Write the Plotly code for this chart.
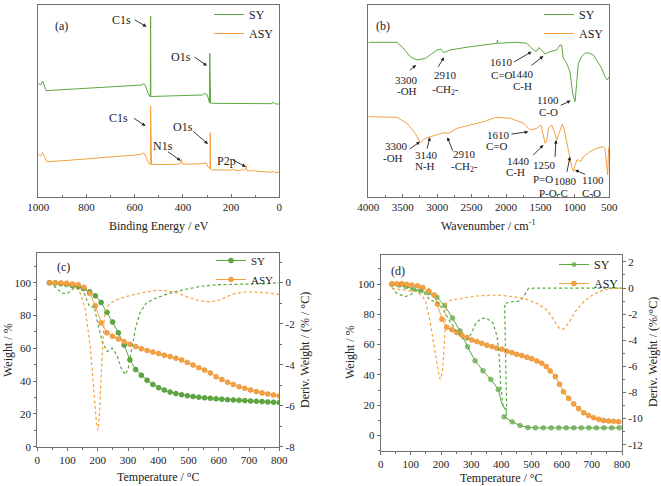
import plotly.graph_objects as go

W, H = 661, 486
GREEN = '#5CA83F'
ORANGE = '#F4A142'
AXIS = '#707070'
TEXT = '#222222'
FONT = 'Liberation Serif, Times New Roman, serif'

# ---------------- (a) XPS survey ----------------
xps_E_sy = [1000, 990, 982, 975, 968, 950, 900, 800, 700, 600, 570, 562, 555, 545, 538, 535, 534, 533, 530, 520,
            480, 400, 350, 320, 310, 302, 296, 292, 289.5, 288.5, 287.5, 285, 270, 200, 150, 100, 50, 30, 25, 20, 10, 0]
xps_I_sy = [113.5, 112, 116, 110, 106.3, 106.6, 107.3, 108.7, 110.1, 111.5, 112, 113.5, 111, 104, 100, 100, 181, 100, 100.5, 100.6,
            100.8, 101.2, 101.5, 102, 103.5, 103, 100, 95, 94, 143.7, 94, 93.8, 93.7, 93.6, 93.5, 93.4, 93.2, 93.3, 95, 93.3, 93, 93]
xps_E_asy = [1000, 990, 982, 975, 965, 900, 800, 700, 600, 570, 562, 555, 545, 538, 535, 534, 533, 530, 500, 450,
             420, 410, 406, 402, 380, 330, 310, 303, 296, 290, 287.5, 286.5, 285.5, 282, 250, 200, 192, 188, 160, 152,
             148, 140, 137, 134, 110, 103, 98, 50, 30, 25, 20, 0]
xps_I_asy = [42.7, 41, 44.5, 40, 35.3, 36.2, 38, 39.8, 42, 43, 44.3, 41, 35, 33, 32.5, 91, 32.5, 32.5, 32.5, 32.6,
             32.8, 34, 37.7, 33, 32.8, 33.2, 34.3, 34, 30, 28.7, 28.3, 64.3, 28, 27.2, 27, 26.8, 28, 26.8, 26.5, 28,
             26.5, 28, 31.3, 26.3, 26, 27, 25.8, 25, 24.8, 26, 24.6, 24.3]
xps_ticks = [1000, 800, 600, 400, 200, 0]
# label, text position, arrow tail, arrow head
xps_labels = [
    ('C1s', (654, 177), (606, 178), (551, 170.3)),
    ('O1s', (406, 139.7), (358, 141), (300, 131.3)),
    ('C1s', (668, 78.7), (609, 79.7), (555, 71)),
    ('O1s', (399, 69.7), (364, 67), (296, 53)),
    ('N1s', (482, 51.3), (468, 46.3), (409, 36.3)),
    ('P2p', (219, 35.7), (198, 37.7), (139, 30.3)),
]

# ---------------- (b) FTIR ----------------
ftir_wn_sy = [4000, 3584, 3511, 3390, 3293, 3170, 3003, 2945, 2906, 2810, 2519, 2132, 2125, 2118, 1842, 1697, 1600, 1561,
              1527, 1482, 1433, 1361, 1264, 1216, 1192, 1168, 1119, 1071, 1032, 998, 974, 950, 902, 853, 805, 732, 684,
              611, 563, 529, 500]
ftir_T_sy = [154.7, 154.7, 150.3, 140.3, 137, 138.7, 147, 148, 144.3, 147, 150.3, 153.7, 157, 153.7, 154.7, 153.7, 147,
             145.3, 149.3, 147, 143, 145.3, 147, 152, 152, 138.7, 133.7, 125.3, 103.7, 95.3, 113.7, 133.7, 140.3, 143.7,
             144.3, 142, 137, 128.7, 120.3, 117, 120.3]
ftir_wn_asy = [4000, 3584, 3439, 3318, 3245, 3172, 3099, 3003, 2906, 2833, 2712, 2519, 2325, 2146, 1938, 1745, 1648, 1551,
               1493, 1464, 1433, 1410, 1385, 1337, 1298, 1264, 1226, 1182, 1153, 1109, 1071, 1046, 1022, 998, 974, 950,
               916, 877, 780, 684, 587, 563, 539, 524, 510, 500]
ftir_T_asy = [80.3, 79.7, 73.7, 63.7, 54.3, 58.7, 60.3, 62, 64.3, 63.7, 68.7, 72, 75.3, 79.7, 78.7, 73.7, 67, 68.7, 72,
              63.7, 53.7, 55.3, 68.7, 72, 65.3, 57, 65.3, 73, 67, 50.3, 38.7, 30.3, 25.3, 30.3, 37, 37, 35.3, 40.3, 45.3,
              48.7, 50.3, 48.7, 30.3, 22, 48.7, 50.3]
ftir_ticks = [4000, 3500, 3000, 2500, 2000, 1500, 1000, 500]
# text lines (text, x, y)
ftir_texts = [
    ('3300', 3443, 117.5), ('-OH', 3443, 105.8),
    ('2910', 2886, 122), ('-CH<sub>2</sub>-', 2886, 107.5),
    ('1610', 2060, 134.8), ('C=O', 2060, 122.5),
    ('1440', 1760, 123.5), ('C-H', 1760, 111.5),
    ('1100', 1385, 97.5), ('C-O', 1385, 84.8),
    ('3300', 3588, 50.8), ('-OH', 3636, 39.2),
    ('3140', 3152, 42.5), ('N-H', 3177, 30.8),
    ('2910', 2596, 43), ('-CH<sub>2</sub>-', 2596, 29.8),
    ('1610', 2112, 62.5), ('C=O', 2136, 50.8),
    ('1440', 1821, 36.5), ('C-H', 1869, 24.8),
    ('1250', 1434, 31.8), ('P=O', 1458, 18.2),
    ('1080', 1143, 15.8), ('P-O-C', 1313, 4.3),
    ('1100', 732, 17.5), ('C-O', 756, 4.3),
]
# arrow tail, arrow head
ftir_arrows = [
    ((3419, 125.3), (3307, 132)), ((2997, 128.7), (2901, 139.7)), ((1903, 134.3), (1627, 145.3)),
    ((1652, 130.3), (1458, 141)), ((1226, 91), (1061, 96.3)),
    ((3419, 47), (3249, 55.3)), ((3152, 47), (3104, 59.7)), ((2765, 44.7), (2852, 59.7)),
    ((1942, 62.7), (1676, 65.3)), ((1627, 40.3), (1458, 52)), ((1289, 38.7), (1274, 57)),
    ((1119, 23.7), (1071, 40.3)), ((829, 22), (998, 27)),
]

# ---------------- (c) TGA / DTG ----------------
tgc_T = [40, 59, 78, 97, 116, 135, 154, 173, 192, 211, 230, 249, 268, 287, 306, 325, 344, 363, 382, 401, 420,
         439, 458, 477, 496, 515, 534, 553, 572, 591, 610, 629, 648, 667, 686, 705, 724, 743, 762, 781, 800]
tgc_W_sy = [100, 99.8, 99.4, 99.0, 98.3, 97.5, 96.5, 94.5, 92.0, 88.0, 82.0, 76.0, 69.5, 62.0, 53.0, 47.0, 43.5, 40.5,
            38.0, 36.0, 34.5, 33.3, 32.4, 31.7, 31.1, 30.6, 30.2, 29.8, 29.5, 29.2, 29.0, 28.7, 28.5, 28.3, 28.1, 27.9,
            27.7, 27.5, 27.3, 27.1, 26.9]
tgc_W_asy = [100, 99.9, 99.8, 99.6, 99.2, 98.8, 97.2, 93.5, 86.0, 75.5, 69.5, 67.3, 65.7, 64.0, 62.5, 61.1, 59.8, 58.7,
             57.7, 56.8, 55.8, 55.0, 54.0, 52.9, 51.4, 49.8, 48.2, 46.7, 44.9, 42.7, 41.0, 39.3, 37.9, 36.6, 35.6, 34.6,
             33.6, 32.8, 32.1, 31.5, 30.9]
dtgc_T_sy = [40, 65, 80, 95, 108, 125, 142, 155, 165, 172, 180, 188, 197, 214, 230, 240, 247, 262, 278, 291, 300, 312,
             325, 340, 360, 385, 407, 430, 462, 500, 540, 595, 650, 705, 760, 800]
dtgc_D_sy = [0, -0.28, -0.5, -0.55, -0.45, -0.2, -0.25, -0.5, -0.9, -1.15, -1.2, -1.15, -1.8, -2.86, -3.35, -3.3, -3.19,
             -3.5, -4.2, -4.49, -4.2, -3.2, -2.2, -1.45, -1.0, -0.8, -0.67, -0.55, -0.42, -0.3, -0.18, -0.1, -0.07,
             -0.07, -0.05, 0]
dtgc_T_asy = [40, 98, 126, 142, 159, 175, 189, 196, 201, 205, 209, 214, 220, 225, 233, 241, 260, 296, 350, 396, 430,
              462, 506, 539, 566, 594, 649, 693, 737, 800]
dtgc_D_asy = [0, -0.11, -0.2, -0.52, -1.33, -3.12, -5.72, -6.9, -7.19, -6.5, -5.2, -3.4, -2.0, -1.4, -1.15, -1.0,
              -0.85, -0.67, -0.48, -0.37, -0.4, -0.5, -0.76, -0.89, -0.94, -0.89, -0.55, -0.44, -0.47, -0.57]

# ---------------- (d) TGA / DTG ----------------
tgd_T_sy = [37, 61, 84, 108, 132, 158, 186, 212, 238, 263, 288, 313, 339, 365, 390, 401, 415, 418, 409, 436, 462, 488,
            513, 539, 565, 590, 615, 640, 665, 690, 715, 740, 766, 791]
tgd_W_sy = [100, 99.3, 98.3, 96.7, 95.6, 94.3, 91.3, 85.9, 77.5, 69.0, 58.6, 49.3, 42.7, 37.0, 30.4, 21.2, 16.5, 14.0,
            12.3, 9.0, 6.6, 5.2, 5.0, 5.0, 5.0, 5.0, 5.0, 5.0, 5.0, 5.0, 5.0, 5.0, 5.0, 5.0]
tgd_unmarked = [401, 415, 418]
tgd_T_asy = [37, 53, 70, 86, 103, 122, 139, 160, 177, 188, 203, 219, 236, 252, 269, 286, 302, 319, 335, 352, 369, 385,
             402, 418, 435, 451, 468, 485, 501, 518, 534, 549, 562, 579, 593, 606, 623, 640, 656, 673, 689, 706, 723,
             739, 756, 772, 789]
tgd_W_asy = [100, 100.2, 100.2, 99.8, 99.3, 98.9, 97.8, 95.4, 92.7, 86.8, 76.8, 71.5, 69.8, 68.0, 66.4, 64.7, 63.1, 62.0,
             60.9, 59.6, 58.7, 57.6, 57.0, 55.6, 54.7, 53.6, 52.8, 51.7, 50.6, 49.2, 47.7, 45.5, 42.6, 38.9, 33.8, 28.9,
             24.5, 20.8, 17.7, 15.0, 13.2, 11.7, 10.6, 9.9, 9.5, 9.3, 9.1]
dtgd_T_sy = [37, 53, 81, 97, 117, 136, 153, 165, 186, 208, 230, 252, 270, 285, 300, 315, 334, 351, 373, 386, 393, 398,
             406, 418, 414, 411, 435, 462, 474, 490, 518, 800]
dtgd_D_sy = [0.05, -0.41, -0.66, -0.54, -0.2, -0.15, -0.66, -0.95, -1.05, -1.68, -2.58, -3.35, -3.85, -4.0, -3.5, -2.7,
             -2.32, -2.32, -2.7, -3.73, -5.26, -7.5, -9.1, -9.3, -5.3, -1.17, -1.05, -1.0, -0.66, -0.03, 0, 0]
dtgd_T_asy = [37, 86, 120, 140, 150, 163, 179, 188, 194, 198, 204, 210, 214, 218, 230, 251, 318, 385, 440, 485, 518,
              551, 575, 593, 606, 623, 645, 673, 706, 739, 772, 800]
dtgd_D_asy = [-0.03, -0.2, -0.28, -0.66, -1.1, -2.45, -4.6, -6.0, -6.8, -7.0, -6.5, -4.7, -3.0, -1.17, -0.95, -0.87,
              -0.61, -0.54, -0.66, -0.87, -1.17, -1.68, -2.45, -3.09, -3.15, -2.66, -1.81, -1.05, -0.46, -0.15, -0.03, 0]

temp_ticks = [0, 100, 200, 300, 400, 500, 600, 700, 800]
weight_ticks = [0, 20, 40, 60, 80, 100]
deriv_ticks_c = [-8, -6, -4, -2, 0]
deriv_ticks_d = [-12, -10, -8, -6, -4, -2, 0, 2]


def fx(p):
    return p / W


def fy(p):
    return 1 - p / H


fig = go.Figure()
DASH = '3px,2.5px'

# (a)
fig.add_trace(go.Scatter(x=xps_E_sy, y=xps_I_sy, mode='lines', name='SY', line=dict(color=GREEN, width=1),
                         xaxis='x', yaxis='y', legend='legend'))
fig.add_trace(go.Scatter(x=xps_E_asy, y=xps_I_asy, mode='lines', name='ASY', line=dict(color=ORANGE, width=1),
                         xaxis='x', yaxis='y', legend='legend'))
# (b)
fig.add_trace(go.Scatter(x=ftir_wn_sy, y=ftir_T_sy, mode='lines', name='SY', line=dict(color=GREEN, width=1),
                         xaxis='x2', yaxis='y2', legend='legend2'))
fig.add_trace(go.Scatter(x=ftir_wn_asy, y=ftir_T_asy, mode='lines', name='ASY', line=dict(color=ORANGE, width=1),
                         xaxis='x2', yaxis='y2', legend='legend2'))
# (c)
fig.add_trace(go.Scatter(x=dtgc_T_sy, y=dtgc_D_sy, mode='lines', showlegend=False,
                         line=dict(color=GREEN, width=1.2, dash=DASH), xaxis='x3', yaxis='y4'))
fig.add_trace(go.Scatter(x=dtgc_T_asy, y=dtgc_D_asy, mode='lines', showlegend=False,
                         line=dict(color=ORANGE, width=1.2, dash=DASH), xaxis='x3', yaxis='y4'))
fig.add_trace(go.Scatter(x=tgc_T, y=tgc_W_sy, mode='lines+markers', name='SY', line=dict(color=GREEN, width=1),
                         marker=dict(size=5, color=GREEN, line=dict(color='#4A8F33', width=0.5)),
                         xaxis='x3', yaxis='y3', legend='legend3'))
fig.add_trace(go.Scatter(x=tgc_T, y=tgc_W_asy, mode='lines+markers', name='ASY', line=dict(color=ORANGE, width=1),
                         marker=dict(size=5, color=ORANGE, line=dict(color='#E08A2A', width=0.5)),
                         xaxis='x3', yaxis='y3', legend='legend3'))
# (d)
fig.add_trace(go.Scatter(x=dtgd_T_sy, y=dtgd_D_sy, mode='lines', showlegend=False,
                         line=dict(color=GREEN, width=1.2, dash=DASH), xaxis='x4', yaxis='y6'))
fig.add_trace(go.Scatter(x=dtgd_T_asy, y=dtgd_D_asy, mode='lines', showlegend=False,
                         line=dict(color=ORANGE, width=1.2, dash=DASH), xaxis='x4', yaxis='y6'))
sy_sizes = [0 if t in tgd_unmarked else 5 for t in tgd_T_sy]
fig.add_trace(go.Scatter(x=tgd_T_sy, y=tgd_W_sy, mode='lines+markers', name='SY', line=dict(color=GREEN, width=1),
                         marker=dict(size=sy_sizes, color=GREEN, line=dict(color='#4A8F33', width=0.5)),
                         xaxis='x4', yaxis='y5', legend='legend4'))
fig.add_trace(go.Scatter(x=tgd_T_asy, y=tgd_W_asy, mode='lines+markers', name='ASY', line=dict(color=ORANGE, width=1),
                         marker=dict(size=5, color=ORANGE, line=dict(color='#E08A2A', width=0.5)),
                         xaxis='x4', yaxis='y5', legend='legend4'))

tick_font = dict(family=FONT, size=11, color=TEXT)
common = dict(showline=True, linecolor=AXIS, linewidth=1, showgrid=False, zeroline=False, tickfont=tick_font,
              tickcolor=AXIS, automargin=False)

dom_a_x = [fx(38.3), fx(279.3)]
dom_b_x = [fx(368.3), fx(609.3)]
dom_ab_y = [fy(197), fy(4.5)]
dom_c_x = [fx(37.3), fx(279.3)]
dom_c_y = [fy(446.7), fy(252.7)]
dom_d_x = [fx(380.7), fx(622)]
dom_d_y = [fy(450.7), fy(255)]

layout = dict(
    width=W, height=H, margin=dict(l=0, r=0, t=0, b=0),
    paper_bgcolor='white', plot_bgcolor='white',
    font=dict(family=FONT, size=11, color=TEXT),
    xaxis=dict(domain=dom_a_x, range=[1000, 0], anchor='y', mirror=True, tickvals=xps_ticks,
               ticks='inside', ticklen=3, minor=dict(ticks='inside', ticklen=2, dtick=100, tickcolor=AXIS), **common),
    yaxis=dict(domain=dom_ab_y, range=[0, 192.5], anchor='x', mirror=True, showticklabels=False, ticks='', **common),
    xaxis2=dict(domain=dom_b_x, range=[4000, 500], anchor='y2', mirror=True, tickvals=ftir_ticks,
                ticks='inside', ticklen=3, minor=dict(ticks='inside', ticklen=2, dtick=250, tickcolor=AXIS), **common),
    yaxis2=dict(domain=dom_ab_y, range=[0, 192.5], anchor='x2', mirror=True, showticklabels=False, ticks='', **common),
    xaxis3=dict(domain=dom_c_x, range=[0, 800], anchor='y3', mirror=True, tickvals=temp_ticks,
                ticks='outside', ticklen=3, minor=dict(ticks='outside', ticklen=2, dtick=50, tickcolor=AXIS), **common),
    yaxis3=dict(domain=dom_c_y, range=[0, 118.3], anchor='x3', tickvals=weight_ticks,
                ticks='outside', ticklen=3, minor=dict(ticks='outside', ticklen=2, dtick=10, tickcolor=AXIS), **common),
    yaxis4=dict(range=[-8, 1.46], anchor='x3', overlaying='y3', side='right', tickvals=deriv_ticks_c,
                ticktext=[str(v) for v in deriv_ticks_c],
                ticks='outside', ticklen=3, minor=dict(ticks='outside', ticklen=2, dtick=1, tickcolor=AXIS), **common),
    xaxis4=dict(domain=dom_d_x, range=[0, 800], anchor='y5', mirror=True, tickvals=temp_ticks,
                ticks='outside', ticklen=3, minor=dict(ticks='outside', ticklen=2, dtick=50, tickcolor=AXIS), **common),
    yaxis5=dict(domain=dom_d_y, range=[-10.1, 119.2], anchor='x4', tickvals=weight_ticks,
                ticks='outside', ticklen=3, minor=dict(ticks='outside', ticklen=2, dtick=10, tickcolor=AXIS), **common),
    yaxis6=dict(range=[-12.46, 2.53], anchor='x4', overlaying='y5', side='right', tickvals=deriv_ticks_d,
                ticktext=[str(v) for v in deriv_ticks_d],
                ticks='outside', ticklen=3, minor=dict(ticks='outside', ticklen=2, dtick=1, tickcolor=AXIS), **common),
)

leg_common = dict(xanchor='left', yanchor='top', bgcolor='rgba(0,0,0,0)', itemwidth=30, tracegroupgap=0,
                  font=dict(family=FONT, size=12, color=TEXT))
layout['legend'] = dict(x=fx(209), y=fy(0), **leg_common)
layout['legend2'] = dict(x=fx(539), y=fy(0), **leg_common)
layout['legend3'] = dict(x=fx(211), y=fy(246), **dict(leg_common, font=dict(family=FONT, size=11, color=TEXT)))
layout['legend4'] = dict(x=fx(554), y=fy(250), **leg_common)

fig.update_layout(**layout)

ann = []
lab_font = dict(family=FONT, size=11, color=TEXT)


def arrow(xref, yref, tail, head):
    return dict(xref=xref, yref=yref, axref=xref, ayref=yref, x=head[0], y=head[1], ax=tail[0], ay=tail[1],
                text='', showarrow=True, arrowhead=2, arrowsize=0.8, arrowwidth=0.9, arrowcolor=TEXT,
                standoff=0, startstandoff=0)


for text, tp, tail, head in xps_labels:
    ann.append(dict(xref='x', yref='y', x=tp[0], y=tp[1], text=text, showarrow=False,
                    font=dict(family=FONT, size=12, color=TEXT)))
    ann.append(arrow('x', 'y', tail, head))
for text, x, y in ftir_texts:
    ann.append(dict(xref='x2', yref='y2', x=x, y=y, text=text, showarrow=False, font=lab_font))
for tail, head in ftir_arrows:
    ann.append(arrow('x2', 'y2', tail, head))

# panel labels
for lab, px_, py_ in [('(a)', 53, 17.3), ('(b)', 383.3, 17.3), ('(c)', 55, 266.7), ('(d)', 398, 270.7)]:
    ann.append(dict(xref='paper', yref='paper', x=fx(px_), y=fy(py_), text=lab, showarrow=False,
                    font=dict(family=FONT, size=12, color=TEXT)))

# axis titles
title_font = dict(family=FONT, size=12, color=TEXT)
for txt, px_, py_, ang in [
    ('Binding Energy / eV', 158.8, 226, 0),
    ('Wavenumber / cm<sup>-1</sup>', 488.8, 225, 0),
    ('Temperature / °C', 158.3, 476.7, 0),
    ('Temperature / °C', 501.3, 477.7, 0),
    ('Weight / %', 8, 350, -90),
    ('Deriv. Weight / (% / °C)', 305, 350, -90),
    ('Weight / %', 350, 352, -90),
    ('Deriv. Weight / (%/°C)', 653, 352, -90),
]:
    ann.append(dict(xref='paper', yref='paper', x=fx(px_), y=fy(py_), text=txt, showarrow=False,
                    textangle=ang, font=title_font, xanchor='center', yanchor='middle'))

fig.update_layout(annotations=ann)
fig.write_html('out.html', config={'displayModeBar': False},
               post_script="document.body.style.margin='0';document.body.style.overflow='hidden';")
